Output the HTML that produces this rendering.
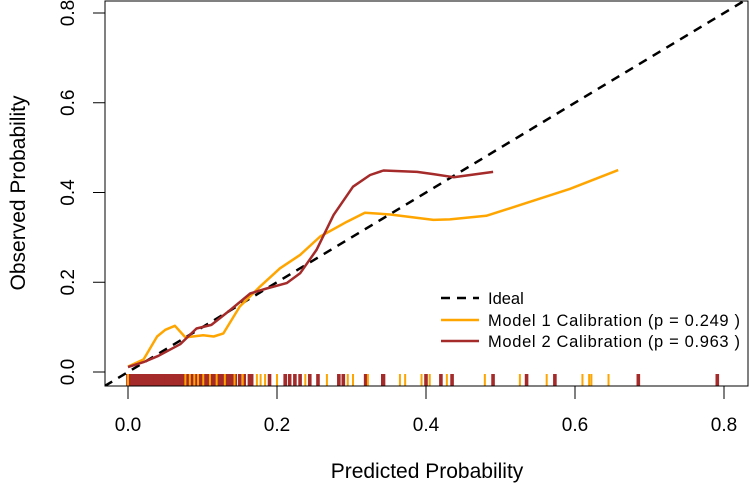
<!DOCTYPE html>
<html><head><meta charset="utf-8"><style>
body{margin:0;background:#fff}
svg text{font-family:"Liberation Sans",Arial,sans-serif;fill:#000}
</style></head><body>
<svg id="chart" width="750" height="493" xmlns="http://www.w3.org/2000/svg" style="display:block">
<defs><clipPath id="plotclip"><rect x="105" y="1" width="643" height="385"/></clipPath></defs>
<g id="plot" clip-path="url(#plotclip)"></g>
<g id="axes"></g>
<text x="427" y="478" text-anchor="middle" font-size="21">Predicted Probability</text>
<text transform="translate(25,193) rotate(-90)" text-anchor="middle" font-size="21">Observed Probability</text>
<g font-size="16.5">
<line x1="441" x2="479" y1="298" y2="298" stroke="#000" stroke-width="2.5" stroke-dasharray="9,7"/>
<text x="488" y="304">Ideal</text>
<line x1="441" x2="479" y1="320" y2="320" stroke="#ffa500" stroke-width="2.5"/>
<text x="488" y="326" textLength="252">Model 1 Calibration (p = 0.249 )</text>
<line x1="441" x2="479" y1="341" y2="341" stroke="#a52a2a" stroke-width="2.5"/>
<text x="488" y="347" textLength="252">Model 2 Calibration (p = 0.963 )</text>
</g>
</svg>
<script>
const xTicks=[0.0,0.2,0.4,0.6,0.8];
const yTicks=[0.0,0.2,0.4,0.6,0.8];
const m1x=[0,0.021,0.039,0.050,0.063,0.077,0.101,0.115,0.128,0.150,0.177,0.204,0.231,0.258,0.294,0.318,0.352,0.410,0.432,0.481,0.526,0.593,0.658];
const m1y=[0.012,0.028,0.079,0.094,0.103,0.077,0.082,0.079,0.086,0.146,0.190,0.231,0.261,0.302,0.335,0.355,0.351,0.339,0.340,0.348,0.372,0.408,0.450];
const m2x=[0,0.021,0.041,0.070,0.092,0.112,0.137,0.164,0.186,0.213,0.231,0.253,0.276,0.302,0.325,0.343,0.388,0.410,0.437,0.490];
const m2y=[0.011,0.022,0.036,0.062,0.097,0.105,0.138,0.175,0.186,0.198,0.220,0.272,0.350,0.413,0.439,0.449,0.446,0.441,0.434,0.446];
const rugRed=[0.000,0.004,0.008,0.012,0.016,0.020,0.024,0.028,0.032,0.036,0.040,0.044,0.048,0.052,0.056,0.060,0.064,0.068,0.072,0.076,0.080,0.084,0.088,0.092,0.096,0.100,0.104,0.108,0.112,0.116,0.120,0.124,0.128,0.132,0.136,0.140,0.144,0.150,0.156,0.163,0.166,0.190,0.211,0.217,0.224,0.231,0.244,0.255,0.283,0.289,0.319,0.342,0.343,0.400,0.420,0.435,0.490,0.535,0.573,0.685,0.791];
const rugOrange=[0.000,0.077,0.083,0.089,0.094,0.101,0.110,0.119,0.130,0.143,0.154,0.173,0.178,0.184,0.200,0.238,0.267,0.295,0.302,0.322,0.365,0.372,0.394,0.405,0.428,0.479,0.526,0.562,0.610,0.619,0.622,0.645];
const NS="http://www.w3.org/2000/svg";
function sx(v){return 128+v*745;}
function sy(v){return 372-v*448.75;}
function mk(tag,attrs,parent){const e=document.createElementNS(NS,tag);for(const k in attrs)e.setAttribute(k,attrs[k]);parent.appendChild(e);return e;}
const plot=document.getElementById('plot'),axes=document.getElementById('axes');
rugRed.forEach(v=>{const l=mk('line',{x1:sx(v),x2:sx(v),y1:374,y2:386,stroke:'#a52a2a','stroke-width':3.6},plot);

});
rugOrange.forEach(v=>{const l=mk('line',{x1:sx(v),x2:sx(v),y1:374,y2:386,stroke:'#ffa500','stroke-width':2},plot);

});
const id=mk('line',{x1:sx(-0.05),y1:sy(-0.05),x2:sx(0.9),y2:sy(0.9),stroke:'#000','stroke-width':2.5,'stroke-dasharray':'9,7'},plot);


function path(xs,ys){return xs.map((x,i)=>(i?'L':'M')+sx(x).toFixed(1)+','+sy(ys[i]).toFixed(1)).join('');}
const p1=mk('path',{d:path(m1x,m1y),fill:'none',stroke:'#ffa500','stroke-width':2.5,'stroke-linejoin':'round'},plot);


const p2=mk('path',{d:path(m2x,m2y),fill:'none',stroke:'#a52a2a','stroke-width':2.5,'stroke-linejoin':'round'},plot);


const box=mk('rect',{x:105,y:1,width:643,height:385,fill:'none',stroke:'#000','stroke-width':1},axes);


xTicks.forEach(v=>{mk('line',{x1:sx(v),x2:sx(v),y1:386,y2:399,stroke:'#000'},axes);
const t=mk('text',{x:sx(v),y:431,'text-anchor':'middle','font-size':19},axes);t.textContent=v.toFixed(1);

});
yTicks.forEach(v=>{mk('line',{x1:93,x2:105,y1:sy(v),y2:sy(v),stroke:'#000'},axes);
const t=mk('text',{x:0,y:0,'text-anchor':'middle','font-size':19,transform:`translate(74,${sy(v)}) rotate(-90)`},axes);t.textContent=v.toFixed(1);

});
</script>
</body></html>
